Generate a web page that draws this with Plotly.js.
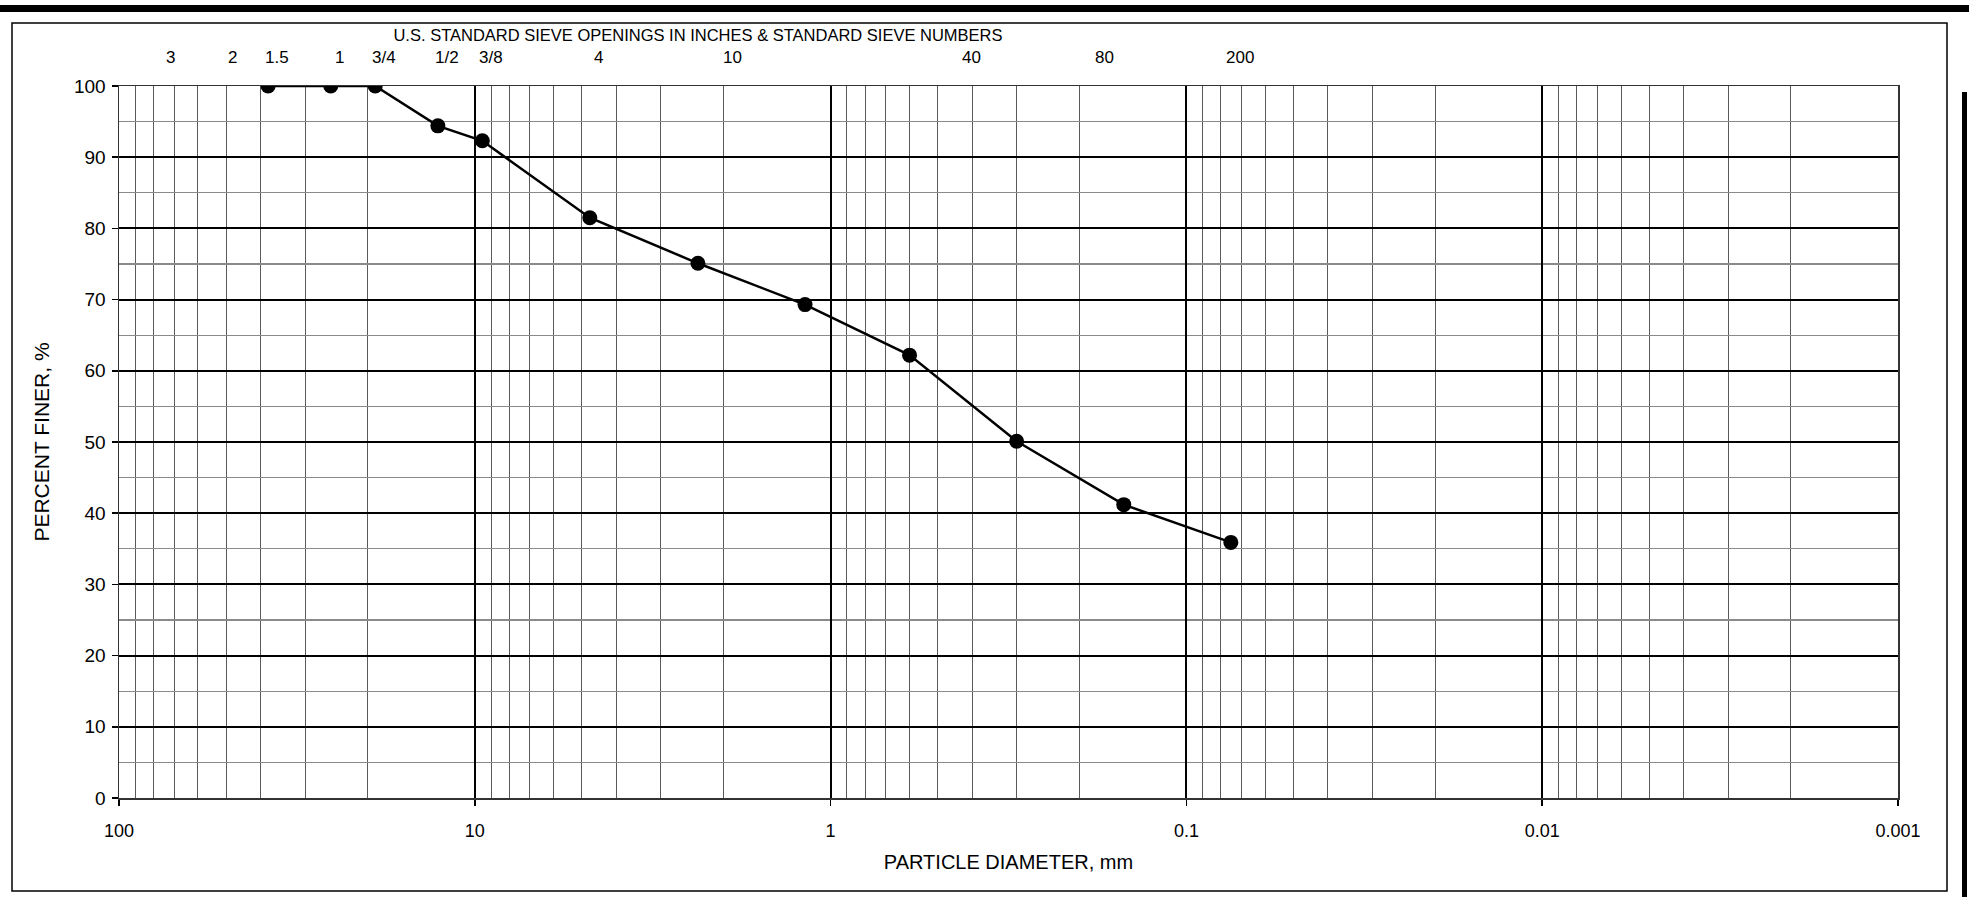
<!DOCTYPE html>
<html>
<head>
<meta charset="utf-8">
<script src="https://cdn.plot.ly/plotly-3.0.1.min.js"></script>
<style>
  html, body { margin: 0; padding: 0; background: #ffffff; }
  #chart { width: 1969px; height: 897px; }
</style>
</head>
<body>
<div id="chart"></div>
<script>
// ---- data ----
const sieveSizesMm = [38.1, 25.4, 19.05, 12.7, 9.525, 4.75, 2.36, 1.18, 0.6, 0.3, 0.15, 0.075];
const percentFiner = [100, 100, 100, 94.4, 92.3, 81.5, 75.1, 69.3, 62.2, 50.1, 41.2, 35.9];

// sieve designations shown along the top, with their openings in mm
const sieveLabels = ['3', '2', '1.5', '1', '3/4', '1/2', '3/8', '4', '10', '40', '80', '200'];
const sieveLabelMm = [76.2, 50.8, 38.1, 25.4, 19.05, 12.7, 9.525, 4.75, 2.0, 0.425, 0.18, 0.075];

// axis ticks
const xTickVals = [100, 10, 1, 0.1, 0.01, 0.001];
const xTickText = ['100', '10', '1', '0.1', '0.01', '0.001'];
const yTickVals = [0, 10, 20, 30, 40, 50, 60, 70, 80, 90, 100];

const topTitle = 'U.S. STANDARD SIEVE OPENINGS IN INCHES &amp; STANDARD SIEVE NUMBERS';
const xTitle = 'PARTICLE DIAMETER, mm';
const yTitle = 'PERCENT FINER, %';

// ---- layout geometry ----
const W = 1969, H = 897;
const M = { l: 119, r: 71, t: 86, b: 99 };
const PW = W - M.l - M.r, PH = H - M.t - M.b;
const px2x = px => (px - M.l) / PW;
const px2y = py => (H - M.b - py) / PH;

const FONT = '"Liberation Sans", Arial, sans-serif';

const trace = {
  type: 'scatter',
  mode: 'lines+markers',
  x: sieveSizesMm,
  y: percentFiner,
  line: { color: '#000000', width: 2.5 },
  marker: { color: '#000000', size: 15 },
  showlegend: false,
  hoverinfo: 'x+y'
};

const annotations = sieveLabels.map((t, i) => ({
  text: t,
  x: Math.log10(sieveLabelMm[i]),
  xref: 'x',
  xshift: 9,
  y: px2y(57),
  yref: 'paper',
  xanchor: 'center',
  yanchor: 'middle',
  showarrow: false,
  font: { family: FONT, size: 17, color: '#000000' }
}));

const shapes = [
  // heavy rule along the top of the sheet
  { type: 'rect', xref: 'paper', yref: 'paper',
    x0: px2x(-5), x1: px2x(W + 5), y0: px2y(12), y1: px2y(5),
    fillcolor: '#000000', line: { width: 0 } },
  // thin frame around the chart
  { type: 'rect', xref: 'paper', yref: 'paper',
    x0: px2x(12), x1: px2x(1947), y0: px2y(891), y1: px2y(23),
    fillcolor: 'rgba(0,0,0,0)', line: { color: '#000000', width: 1.5 } },
  // heavy bar on the right edge
  { type: 'rect', xref: 'paper', yref: 'paper',
    x0: px2x(1962), x1: px2x(1967), y0: px2y(H + 5), y1: px2y(92),
    fillcolor: '#000000', line: { width: 0 } }
];

const layout = {
  width: W,
  height: H,
  margin: M,
  paper_bgcolor: '#ffffff',
  plot_bgcolor: '#ffffff',
  font: { family: FONT, color: '#000000', size: 18 },
  title: {
    text: topTitle,
    xref: 'paper', x: px2x(698), xanchor: 'center',
    yref: 'container', y: 1 - 35 / H, yanchor: 'middle',
    font: { family: FONT, size: 16.5, color: '#000000' }
  },
  xaxis: {
    type: 'log',
    range: [2, -3],
    tickmode: 'array',
    tickvals: xTickVals,
    ticktext: xTickText,
    ticks: 'outside',
    ticklen: 6,
    tickwidth: 1.5,
    tickcolor: '#000000',
    ticklabelstandoff: 10,
    tickfont: { family: FONT, size: 18, color: '#000000' },
    showgrid: true,
    gridcolor: '#000000',
    gridwidth: 2,
    minor: { dtick: 'D1', showgrid: true, gridcolor: '#5a5a5a', gridwidth: 1, ticks: '' },
    showline: true,
    linecolor: '#333333',
    linewidth: 1.5,
    mirror: true,
    zeroline: false,
    automargin: false,
    title: { text: xTitle, standoff: 15, font: { family: FONT, size: 20, color: '#000000' } }
  },
  yaxis: {
    range: [0, 100],
    tickmode: 'array',
    tickvals: yTickVals,
    ticks: 'outside',
    ticklen: 6,
    tickwidth: 1.5,
    tickcolor: '#000000',
    ticklabelstandoff: 2,
    tickfont: { family: FONT, size: 19, color: '#000000' },
    showgrid: true,
    gridcolor: '#000000',
    gridwidth: 2,
    minor: { dtick: 5, showgrid: true, gridcolor: '#8a8a8a', gridwidth: 1.3, ticks: '' },
    showline: true,
    linecolor: '#333333',
    linewidth: 1.5,
    mirror: true,
    zeroline: false,
    automargin: false,
    title: { text: yTitle, standoff: 18, font: { family: FONT, size: 21, color: '#000000' } }
  },
  annotations: annotations,
  shapes: shapes
};

Plotly.newPlot('chart', [trace], layout, { displayModeBar: false, staticPlot: true });
</script>
</body>
</html>
